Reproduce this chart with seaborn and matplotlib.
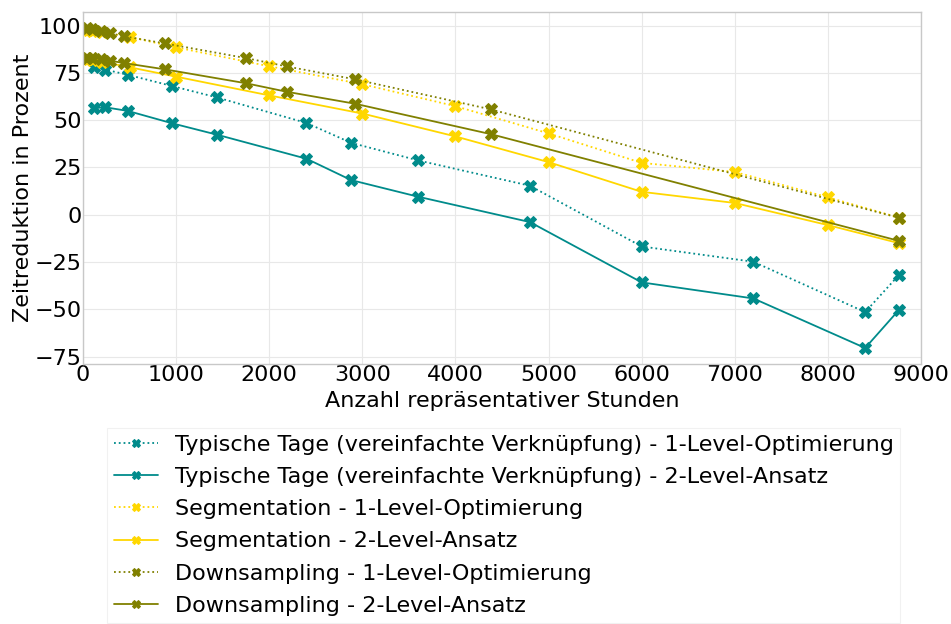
import matplotlib
matplotlib.use("Agg")
import matplotlib.pyplot as plt
import seaborn as sns
import pandas as pd

# Typische Tage (vereinfachte Verknüpfung)
tt_x = [120, 240, 480, 960, 1440, 2400, 2880, 3600, 4800, 6000, 7200, 8400, 8760]
tt_1level = [78, 76.7, 74, 68, 62, 48.5, 38, 28.7, 15.3, -16.8, -24.9, -51.5, -32]
tt_2level = [56.4, 56.8, 54.9, 48.3, 42.3, 29.6, 18.3, 9.5, -3.9, -35.8, -44.3, -70.5, -50.5]

# Segmentation
seg_x = [50, 100, 200, 500, 1000, 2000, 3000, 4000, 5000, 6000, 7000, 8000, 8760]
seg_1level = [97.5, 97, 96.5, 94, 88.5, 78.5, 69, 57.4, 43, 27.4, 22.6, 9.2, -1.5]
seg_2level = [82.5, 82, 81, 78, 73, 63.1, 53.5, 41.4, 27.8, 12.1, 6.2, -5.5, -15]

# Downsampling
ds_x = [48, 96, 192, 288, 438, 876, 1752, 2190, 2920, 4380, 8760]
ds_1level = [98.5, 98, 97, 96, 94.4, 90.6, 82.8, 78.4, 71.6, 55.7, -1.6]
ds_2level = [83, 83, 82.5, 81.5, 80.2, 76.9, 69.5, 65, 58.7, 42.6, -13.8]

labels = [
    "Typische Tage (vereinfachte Verknüpfung) - 1-Level-Optimierung",
    "Typische Tage (vereinfachte Verknüpfung) - 2-Level-Ansatz",
    "Segmentation - 1-Level-Optimierung",
    "Segmentation - 2-Level-Ansatz",
    "Downsampling - 1-Level-Optimierung",
    "Downsampling - 2-Level-Ansatz",
]
series = [
    (tt_x, tt_1level, "#008B8B", ":"),
    (tt_x, tt_2level, "#008B8B", "-"),
    (seg_x, seg_1level, "#FFD700", ":"),
    (seg_x, seg_2level, "#FFD700", "-"),
    (ds_x, ds_1level, "#808000", ":"),
    (ds_x, ds_2level, "#808000", "-"),
]

sns.set_theme(style="whitegrid")
plt.rcParams["font.family"] = ["DejaVu Sans"]
plt.rcParams["text.color"] = "black"
plt.rcParams["axes.labelcolor"] = "black"
plt.rcParams["xtick.color"] = "black"
plt.rcParams["ytick.color"] = "black"

fig = plt.figure(figsize=(9.51, 6.24), dpi=100)
ax = fig.add_axes([0.0873, 0.4167, 0.8812, 0.5633])

for (x, y, c, ls), lab in zip(series, labels):
    df = pd.DataFrame({"x": x, "y": y})
    sns.lineplot(data=df, x="x", y="y", ax=ax, color=c, linestyle=ls,
                 marker="X", markersize=9, markeredgecolor=c, linewidth=1.3,
                 label=lab)

ax.set_xlim(0, 9000)
ax.set_xticks(range(0, 9001, 1000))
ax.set_yticks([-75, -50, -25, 0, 25, 50, 75, 100])
ax.tick_params(axis="both", labelsize=16, pad=1, length=0)
ax.set_xlabel("Anzahl repräsentativer Stunden", fontsize=16, labelpad=4)
ax.set_ylabel("Zeitreduktion in Prozent", fontsize=16, labelpad=1)
ax.grid(True, color="#e8e8e8", linewidth=0.8)
for s in ax.spines.values():
    s.set_color("#c8c8c8")
    s.set_linewidth(1.0)

handles, labs = ax.get_legend_handles_labels()
if ax.legend_:
    ax.legend_.remove()
leg = fig.legend(handles, labs, loc="upper left", bbox_to_anchor=(0.1125, 0.314),
                 borderaxespad=0, fontsize=16, frameon=True, fancybox=False,
                 markerscale=0.6, handlelength=2.0, labelspacing=0.55,
                 borderpad=0.3, handletextpad=0.75)
leg.get_frame().set_edgecolor("#eeeeee")
leg.get_frame().set_linewidth(0.8)

fig.savefig("out.png", dpi=100)
